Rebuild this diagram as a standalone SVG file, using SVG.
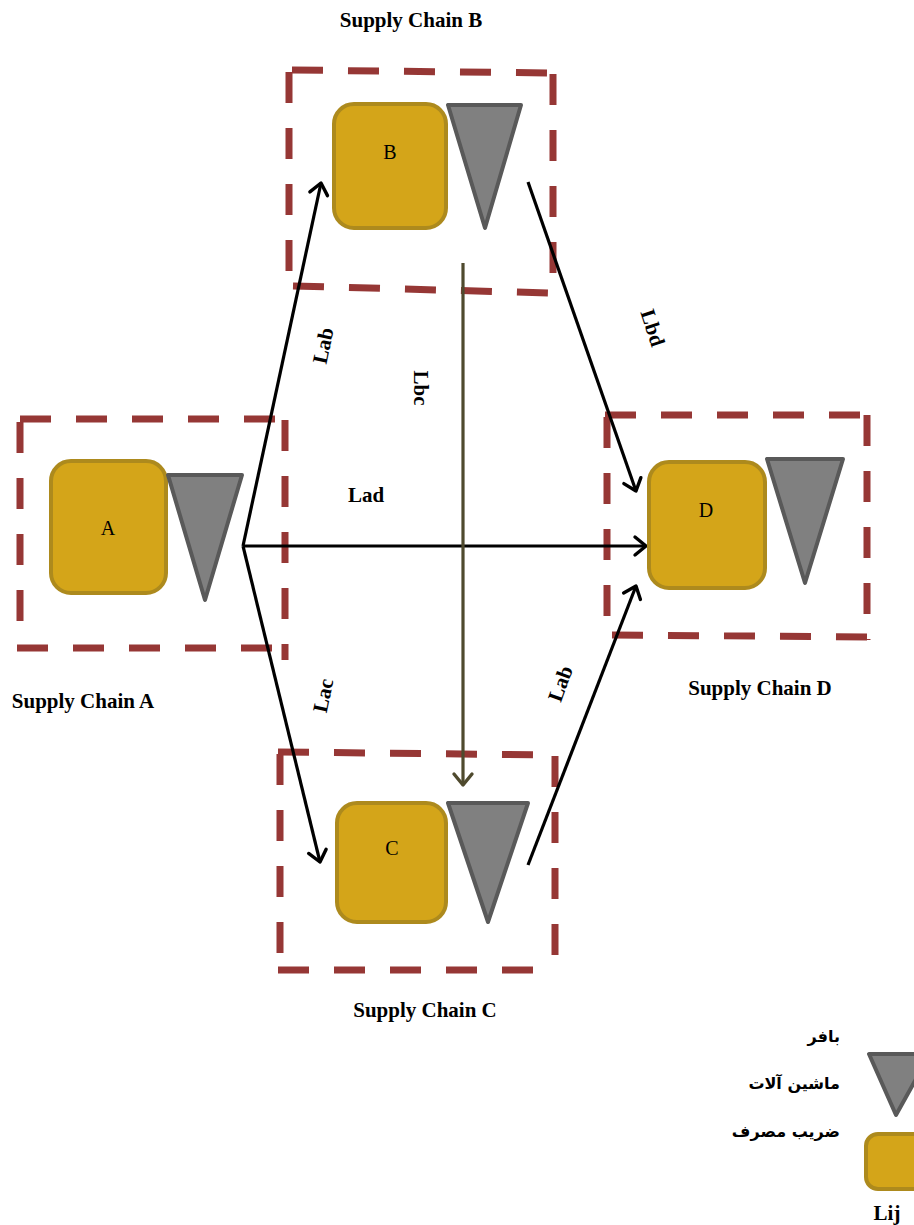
<svg xmlns="http://www.w3.org/2000/svg" width="914" height="1225" viewBox="0 0 914 1225">
  <style>
    .frame { fill: none; stroke: #963735; stroke-width: 7; stroke-dasharray: 31 25; }
    .sq { fill: #D4A519; stroke: #AD8A1D; stroke-width: 4; }
    .tri { fill: #808080; stroke: #595959; stroke-width: 4; stroke-linejoin: round; }
    .lbl { font-family: "Liberation Serif", serif; font-size: 20px; fill: #000; text-anchor: middle; }
    .title { font-family: "Liberation Serif", serif; font-size: 21px; font-weight: bold; fill: #000; text-anchor: middle; }
    .edge { font-family: "Liberation Serif", serif; font-size: 21px; font-weight: bold; fill: #000; text-anchor: middle; }
    .fa { font-family: "DejaVu Sans", sans-serif; font-size: 16px; font-weight: bold; fill: #000; text-anchor: end; }
    .link { fill: none; stroke: #000; stroke-width: 3.2; marker-end: url(#open); }
  </style>
  <defs>
    <marker id="open" markerUnits="userSpaceOnUse" markerWidth="30" markerHeight="30" refX="0" refY="0" orient="auto" overflow="visible">
      <path d="M -11 -9 L 0 0 L -11 9" fill="none" stroke="#000" stroke-width="3.4" stroke-linecap="round" stroke-linejoin="round"/>
    </marker>
    <marker id="openOlive" markerUnits="userSpaceOnUse" markerWidth="30" markerHeight="30" refX="0" refY="0" orient="auto" overflow="visible">
      <path d="M -11 -9 L 0 0 L -11 9" fill="none" stroke="#4F4A2E" stroke-width="3.4" stroke-linecap="round" stroke-linejoin="round"/>
    </marker>
  </defs>

  <!-- dashed supply chain frames -->
  <g id="frames">
    <g id="frame-b">
      <line class="frame" x1="292" y1="70" x2="552" y2="73"/>
      <line class="frame" x1="289" y1="72" x2="289" y2="290"/>
      <line class="frame" x1="553" y1="74" x2="553" y2="275"/>
      <line class="frame" x1="293" y1="286" x2="550" y2="293"/>
    </g>
    <g id="frame-a">
      <line class="frame" x1="20" y1="419" x2="278" y2="419"/>
      <line class="frame" x1="20" y1="422" x2="20" y2="625"/>
      <line class="frame" x1="285" y1="420" x2="285" y2="660"/>
      <line class="frame" x1="17" y1="648" x2="280" y2="648"/>
    </g>
    <g id="frame-d">
      <line class="frame" x1="605" y1="415" x2="862" y2="415"/>
      <line class="frame" x1="607" y1="417" x2="607" y2="640"/>
      <line class="frame" x1="867" y1="415" x2="867" y2="640"/>
      <line class="frame" x1="612" y1="635" x2="868" y2="637"/>
    </g>
    <g id="frame-c">
      <line class="frame" x1="278" y1="752" x2="555" y2="755"/>
      <line class="frame" x1="280" y1="754" x2="280" y2="975"/>
      <line class="frame" x1="555" y1="756" x2="555" y2="958"/>
      <line class="frame" x1="278" y1="970" x2="540" y2="970"/>
    </g>
  </g>

  <!-- connectors -->
  <g id="connectors">
    <line class="link" x1="243" y1="546" x2="321" y2="183"/>
    <line class="link" x1="243" y1="546" x2="646" y2="546"/>
    <line class="link" x1="243" y1="546" x2="320" y2="862"/>
    <line class="link" x1="528" y1="182" x2="636" y2="491"/>
    <line class="link" x1="528" y1="865" x2="636" y2="586"/>
    <line x1="463" y1="263" x2="463" y2="785" fill="none" stroke="#4F4A2E" stroke-width="3.2" marker-end="url(#openOlive)"/>
  </g>

  <!-- connector labels -->
  <g id="edge-labels">
    <text class="edge" transform="translate(330,347) rotate(-78)">Lab</text>
    <text class="edge" transform="translate(414,388) rotate(90)">Lbc</text>
    <text class="edge" transform="translate(646,330) rotate(72)">Lbd</text>
    <text class="edge" x="366" y="502">Lad</text>
    <text class="edge" transform="translate(330,697) rotate(-78)">Lac</text>
    <text class="edge" transform="translate(567,686) rotate(-70)">Lab</text>
  </g>

  <!-- supply chain nodes -->
  <g id="node-a">
    <rect class="sq" x="51" y="461" width="115" height="132" rx="20"/>
    <polygon class="tri" points="168,475 242,475 205,600"/>
    <text class="lbl" x="108" y="535">A</text>
  </g>
  <g id="node-b">
    <rect class="sq" x="334" y="104" width="112" height="124" rx="20"/>
    <polygon class="tri" points="448,105 521,105 485,228"/>
    <text class="lbl" x="390" y="159">B</text>
  </g>
  <g id="node-c">
    <rect class="sq" x="337" y="803" width="109" height="119" rx="20"/>
    <polygon class="tri" points="448,803 528,803 488,922"/>
    <text class="lbl" x="392" y="855">C</text>
  </g>
  <g id="node-d">
    <rect class="sq" x="649" y="462" width="116" height="126" rx="20"/>
    <polygon class="tri" points="767,459 843,459 805,583"/>
    <text class="lbl" x="706" y="517">D</text>
  </g>

  <!-- chain titles -->
  <g id="titles">
    <text class="title" x="411" y="27">Supply Chain B</text>
    <text class="title" x="83" y="708">Supply Chain A</text>
    <text class="title" x="760" y="695">Supply Chain D</text>
    <text class="title" x="425" y="1017">Supply Chain C</text>
  </g>

  <!-- legend -->
  <g id="legend">
    <text class="fa" x="840" y="1042">بافر</text>
    <text class="fa" x="840" y="1089">ماشین آلات</text>
    <text class="fa" x="840" y="1137">ضریب مصرف</text>
    <polygon class="tri" points="869,1054 930,1054 896,1115"/>
    <rect class="sq" x="866" y="1134" width="80" height="55" rx="12"/>
    <text class="title" x="887" y="1220">Lij</text>
  </g>
</svg>
